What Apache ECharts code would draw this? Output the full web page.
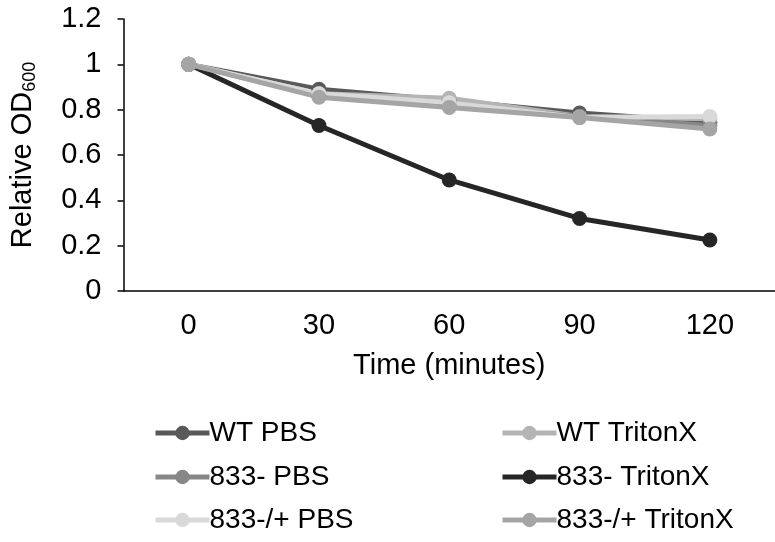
<!DOCTYPE html>
<html><head><meta charset="utf-8">
<script src="https://cdn.jsdelivr.net/npm/echarts@6/dist/echarts.min.js"></script>
<style>html,body{margin:0;padding:0;background:#fff}#c{width:775px;height:542px}</style>
</head><body><div id="c"></div>
<script>
var categories = ['0', '30', '60', '90', '120'];
var seriesNames = ['WT PBS', 'WT TritonX', '833- PBS', '833- TritonX', '833-/+ PBS', '833-/+ TritonX'];
var wtPBS = [1, 0.89, 0.84, 0.785, 0.745];
var wtTriton = [1, 0.87, 0.85, 0.77, 0.76];
var m833PBS = [1, 0.86, 0.82, 0.77, 0.73];
var m833Triton = [1, 0.73, 0.49, 0.32, 0.225];
var comp833PBS = [1, 0.87, 0.83, 0.765, 0.77];
var comp833Triton = [1, 0.855, 0.81, 0.765, 0.715];
var colors = ['#595959', '#b4b4b4', '#878787', '#262626', '#d9d9d9', '#a5a5a5'];
var values = [wtPBS, wtTriton, m833PBS, m833Triton, comp833PBS, comp833Triton];

var font = 'Liberation Sans, Arial, sans-serif';
var FS = 29;
var LFS = 28;
var series = values.map(function (v, i) {
  return {
    name: seriesNames[i], type: 'line', data: v,
    symbol: 'circle', symbolSize: 15,
    lineStyle: { width: 5, color: colors[i] },
    itemStyle: { color: colors[i] },
    emphasis: { disabled: true }
  };
});
// legend placement: two columns, three rows
var legendPos = [[153, 435], [500, 435], [153, 479], [500, 479], [153, 522], [500, 522]];
var legends = seriesNames.map(function (n, i) {
  return {
    data: [n], left: legendPos[i][0], top: legendPos[i][1] - 16, padding: 0,
    itemWidth: 54, itemHeight: 18, itemGap: 0,
    lineStyle: { width: 5 },
    textStyle: { fontFamily: font, fontSize: LFS, color: '#000', padding: [0, 0, 0, -5] }
  };
});
var chart = echarts.init(document.getElementById('c'), null, { renderer: 'canvas' });
chart.setOption({
  animation: false,
  grid: { left: 123, top: 19, width: 660, height: 272, containLabel: false },
  xAxis: {
    type: 'category', data: categories, boundaryGap: true,
    axisLine: { lineStyle: { color: '#000', width: 1.5 } },
    axisTick: { show: false },
    axisLabel: { fontFamily: font, fontSize: FS, color: '#000', margin: 20 },
    name: 'Time (minutes)', nameLocation: 'middle', nameGap: 60,
    nameTextStyle: { fontFamily: font, fontSize: FS, color: '#000' }
  },
  yAxis: {
    type: 'value', min: 0, max: 1.2, interval: 0.2,
    axisLine: { show: true, lineStyle: { color: '#000', width: 1.5 } },
    axisTick: { show: true, length: 6, lineStyle: { color: '#000', width: 1.5 } },
    splitLine: { show: false },
    axisLabel: {
      fontFamily: font, fontSize: FS, color: '#000', margin: 22,
      formatter: function (v) { return String(Math.round(v * 10) / 10); }
    },
    name: '{a|Relative OD}{b|600}', nameLocation: 'middle', nameGap: 84, nameRotate: 90,
    nameTextStyle: {
      rich: {
        a: { fontFamily: font, fontSize: FS, color: '#000' },
        b: { fontFamily: font, fontSize: 18, color: '#000', verticalAlign: 'bottom', padding: [16, 0, 0, 0] }
      }
    }
  },
  legend: legends,
  series: series
});
</script></body></html>
